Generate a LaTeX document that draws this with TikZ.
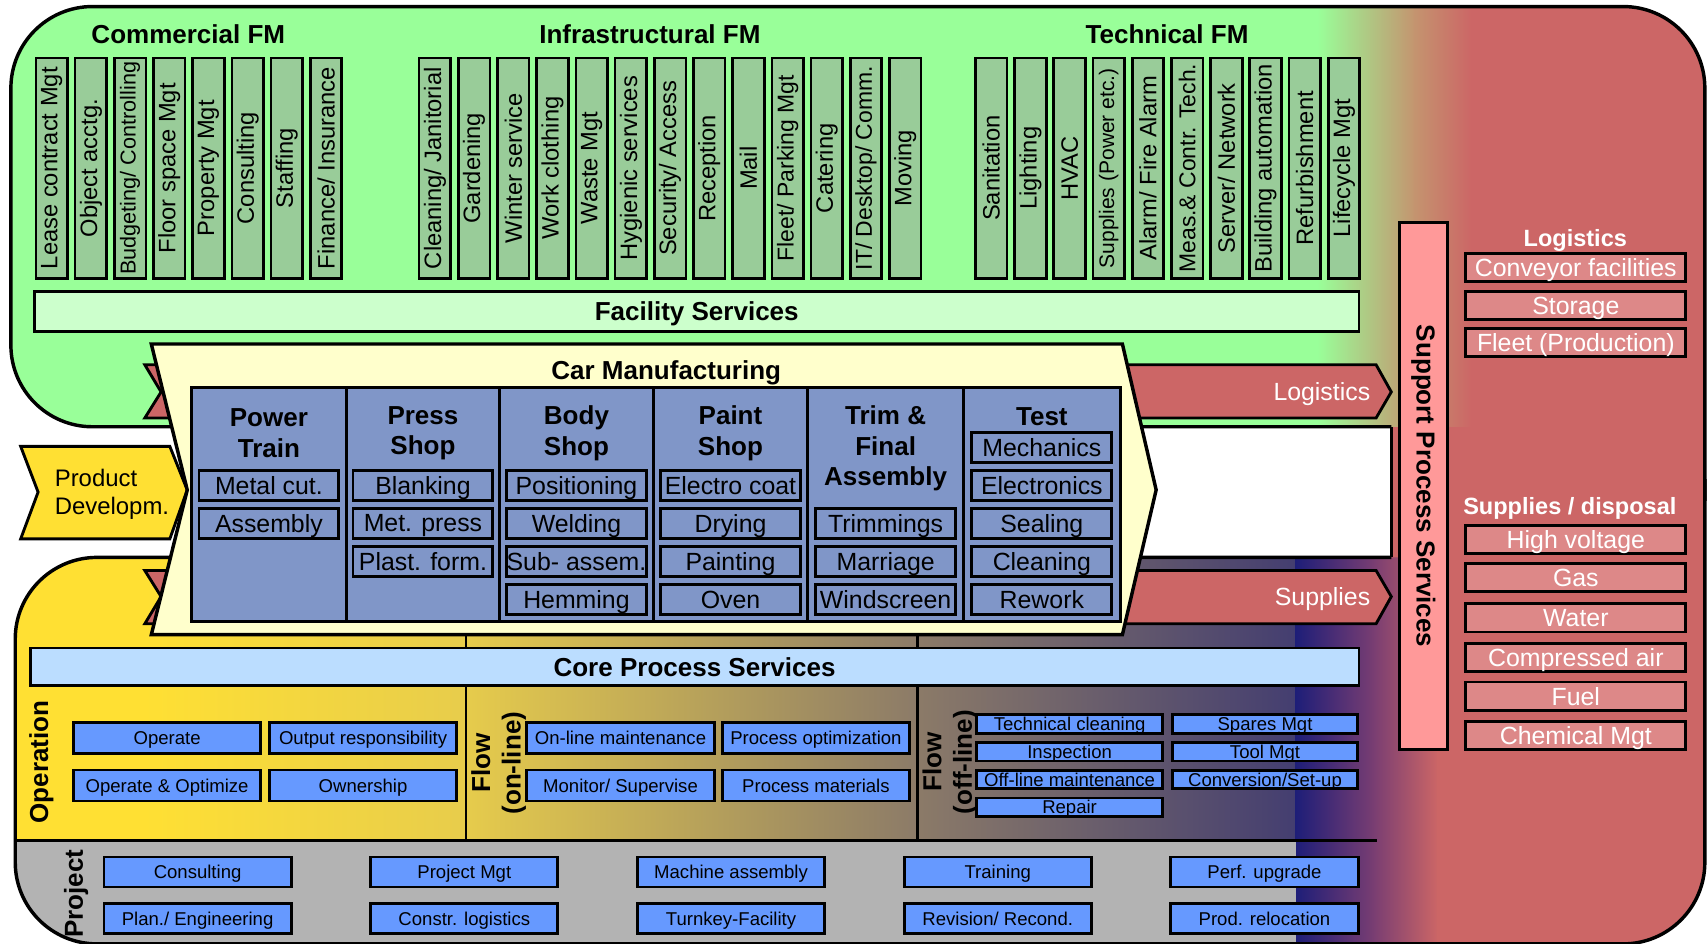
\documentclass[tikz,border=0pt]{standalone}
\usepackage{fontspec}
\setmainfont{Liberation Sans}
\usetikzlibrary{positioning, shapes, calc}

\definecolor{fmgreen}{HTML}{99FF99}
\definecolor{fmtan}{HTML}{C4946F}
\definecolor{colgreen}{HTML}{99CC99}
\definecolor{fsgreen}{HTML}{CCFFCC}
\definecolor{carcream}{HTML}{FFFFCC}
\definecolor{shopblue}{HTML}{8096C8}
\definecolor{supred}{HTML}{CC6666}
\definecolor{supboxred}{HTML}{DD8888}
\definecolor{supbar}{HTML}{FF9999}
\definecolor{corebar}{HTML}{BBDDFF}
\definecolor{taskblue}{HTML}{6699FF}
\definecolor{projgray}{HTML}{B3B3B3}
\definecolor{opyellow}{HTML}{FFE033}
\definecolor{opgold}{HTML}{E8CD4B}
\definecolor{flowtaupe}{HTML}{8C7B68}
\definecolor{flowslate}{HTML}{443E70}
\definecolor{flownavy}{HTML}{1E1E78}
\definecolor{flowplum}{HTML}{7A3E72}

\newcommand{\headfont}{\fontsize{13.6}{16}\selectfont\bfseries}
\newcommand{\colfont}{\fontsize{12.4}{14}\selectfont}
\newcommand{\boxfont}{\fontsize{13}{15}\selectfont}
\newcommand{\taskfont}{\fontsize{9.7}{11}\selectfont}
\newcommand{\listhdfont}{\fontsize{12.3}{14}\selectfont\bfseries}

\begin{document}
\begin{tikzpicture}[x=0.02cm, y=-0.02cm,
  frame/.style={draw=black, line width=1.8pt},
  divline/.style={draw=black, line width=1.5pt},
  fmcol/.style={draw, line width=1.4pt, fill=colgreen, rotate=90, minimum width=4.05cm,
    minimum height=0.58cm, inner sep=0pt, font=\colfont},
  fsbar/.style={draw, line width=1.5pt, inner sep=0pt, text depth=0pt, font=\headfont},
  shoptitle/.style={align=center, inner sep=0pt, font=\headfont},
  shopbox/.style={draw, line width=1.5pt, fill=shopblue, minimum width=2.57cm,
    minimum height=0.54cm, inner sep=0pt, text depth=0pt, font=\boxfont},
  taskbox/.style={draw, line width=1.5pt, fill=taskblue, minimum width=3.44cm,
    minimum height=0.57cm, inner sep=0pt, text depth=0pt, font=\taskfont},
  offbox/.style={taskbox, minimum width=3.41cm, minimum height=0.34cm},
  projbox/.style={taskbox, minimum height=0.55cm},
  listbox/.style={draw, line width=1.5pt, fill=supboxred, minimum width=4.04cm,
    minimum height=0.52cm, inner sep=0pt, text depth=0pt, text=white, font=\boxfont},
  listhead/.style={inner sep=0pt, text=white, font=\listhdfont},
  flowarrow/.style={draw, line width=1.5pt, fill=supred},
  sidelabel/.style={rotate=90, align=center, inner sep=0pt, font=\headfont},
]
\useasboundingbox (0,0) rectangle (1568,867);

% backgrounds
\fill[supred, rounded corners=1.5cm] (1150,6) rectangle (1566,867);
\begin{scope}
  \clip[rounded corners=1.5cm] (10,6) rectangle (1566,392);
  \fill[fmgreen] (0,0) rectangle (1210,400);
  \shade[left color=fmgreen, right color=fmtan] (1210,0) rectangle (1300,400);
  \shade[left color=fmtan, right color=supred] (1299,0) rectangle (1352,400);
  \fill[supred] (1351,0) rectangle (1570,400);
\end{scope}
\begin{scope}
  \clip[rounded corners=1.5cm] (14,512) rectangle (1566,867);
  \fill[opyellow] (0,500) rectangle (131,870);
  \shade[left color=opyellow, right color=opgold] (130,500) rectangle (421,870);
  \shade[left color=opgold, right color=flowtaupe] (420,500) rectangle (841,870);
  \shade[left color=flowtaupe, right color=flowslate] (840,500) rectangle (1190,870);
  \shade[left color=flownavy, right color=flowplum] (1190,500) rectangle (1263,870);
  \shade[left color=flowplum, right color=supred] (1262,500) rectangle (1321,870);
  \fill[supred] (1320,500) rectangle (1570,870);
  \fill[projgray] (0,772) rectangle (1190,870);
\end{scope}
\fill[white] (0,392) rectangle (1278,512);

% outline
\draw[frame, rounded corners=1.5cm] (1278,392) -- (10,392) -- (10,6) -- (1566,6) -- (1566,460);
\draw[frame, rounded corners=1.5cm] (1278,512) -- (14,512) -- (14,867) -- (1566,867) -- (1566,440);
\draw[frame] (1278,392) -- (1278,512);

% facility management
\node[font=\headfont] (comfm) at (173,31) {Commercial FM};
\node[font=\headfont] (inffm) at (597,31) {Infrastructural FM};
\node[font=\headfont] (tecfm) at (1072,31) {Technical FM};
\foreach \lab [count=\i from 0] in {Lease contract Mgt, Object acctg.,
    {\fontsize{11.3}{12}\selectfont Budgeting/ Controlling}, Floor space Mgt,
    Property Mgt, Consulting, Staffing, Finance/ Insurance}
  \node[fmcol] (com\i) at ({47.5+36*\i},154.5) {\lab};
\foreach \lab [count=\i from 0] in {Cleaning/ Janitorial, Gardening, Winter service,
    Work clothing, Waste Mgt, Hygienic services, Security/ Access, Reception, Mail,
    {\fontsize{12}{13}\selectfont Fleet/ Parking Mgt}, Catering,
    {\fontsize{12}{13}\selectfont IT/ Desktop/ Comm.}, Moving}
  \node[fmcol] (inf\i) at ({399.5+36*\i},154.5) {\lab};
\foreach \lab [count=\i from 0] in {Sanitation, Lighting, HVAC,
    {\fontsize{11}{12}\selectfont Supplies (Power etc.)}, Alarm/ Fire Alarm,
    {\fontsize{12}{13}\selectfont Meas.\& Contr. Tech.}, Server/ Network,
    Building automation, Refurbishment, Lifecycle Mgt}
  \node[fmcol] (tec\i) at ({910.5+36*\i},154.5) {\lab};
\node[fsbar, fill=fsgreen, minimum width=24.34cm, minimum height=0.74cm] (facsrv) at (640,286) {Facility Services};

% logistics and supplies flows
\draw[flowarrow] (133,335) -- (1264,335) -- (1278,360) -- (1264,384) -- (133,384) -- (148,360) -- cycle;
\draw[flowarrow] (133,524) -- (1264,524) -- (1278,548) -- (1264,573) -- (133,573) -- (148,548) -- cycle;
\node[anchor=east, inner sep=0pt, text=white, font=\boxfont] (logflow) at (1259,362) {Logistics};
\node[anchor=east, inner sep=0pt, text=white, font=\boxfont] (supflow) at (1259,550) {Supplies};

% product development
\draw[line width=1.5pt, fill=opyellow] (19,410) -- (156,410) -- (172,450) -- (156,495) -- (19,495) -- (35,452) -- cycle;
\node[anchor=west, align=left, inner sep=0pt, font=\fontsize{12.5}{14.8}\selectfont] (proddev) at (50,454) {Product\\Developm.};

% car manufacturing
\draw[line width=1.8pt, fill=carcream] (139,316) -- (1031,316) -- (1062,450) -- (1031,583) -- (139,583) -- (172,450) -- cycle;
\node[font=\headfont] (carman) at (612,342) {Car Manufacturing};
\draw[divline, fill=shopblue] (176,356) rectangle (1029,571);
\foreach \x in {318,459,600,742,885}
  \draw[divline] (\x,356) -- (\x,571);
\node[shoptitle] (pwrt) at (247,398) {Power\\Train};
\node[shoptitle] (prst) at (388.5,398) {Press\\Shop};
\node[shoptitle] (bdyt) at (529.5,398) {Body\\Shop};
\node[shoptitle] (pntt) at (671,398) {Paint\\Shop};
\node[shoptitle] (trmt) at (813.5,412) {Trim \&\\Final\\Assembly};
\node[shoptitle] (tstt) at (957,383) {Test};
\foreach \lab [count=\r from 1] in {Metal cut., Assembly}
  \node[shopbox] (pwr\r) at (247,{411+34.9*\r}) {\lab};
\foreach \lab [count=\r from 1] in {Blanking, Met. press, Plast. form.}
  \node[shopbox] (prs\r) at (388.5,{411+34.9*\r}) {\lab};
\foreach \lab [count=\r from 1] in {Positioning, Welding, Sub- assem., Hemming}
  \node[shopbox] (bdy\r) at (529.5,{411+34.9*\r}) {\lab};
\foreach \lab [count=\r from 1] in {Electro coat, Drying, Painting, Oven}
  \node[shopbox] (pnt\r) at (671,{411+34.9*\r}) {\lab};
\foreach \lab [count=\r from 2] in {Trimmings, Marriage, Windscreen}
  \node[shopbox] (trm\r) at (813.5,{411+34.9*\r}) {\lab};
\foreach \lab [count=\r from 0] in {Mechanics, Electronics, Sealing, Cleaning, Rework}
  \node[shopbox] (tst\r) at (957,{411+34.9*\r}) {\lab};

% core process services
\draw[divline] (428,583) -- (428,772);
\draw[divline] (843,583) -- (843,772);
\draw[divline] (14,772) -- (1265,772);
\node[fsbar, fill=corebar, minimum width=24.42cm, minimum height=0.69cm] (coresrv) at (638,612.5) {Core Process Services};

\node[sidelabel] (operation) at (38,700) {Operation};
\node[taskbox] (opr) at (153.5,677.5) {Operate};
\node[taskbox] (outresp) at (333.5,677.5) {Output responsibility};
\node[taskbox] (opropt) at (153.5,721.5) {Operate \& Optimize};
\node[taskbox] (owner) at (333.5,721.5) {Ownership};

\node[sidelabel] (flowon) at (458,701) {Flow\\(on-line)};
\node[taskbox] (onmaint) at (570,677.5) {On-line maintenance};
\node[taskbox] (procopt) at (749.5,677.5) {Process optimization};
\node[taskbox] (monitor) at (570,721.5) {Monitor/ Supervise};
\node[taskbox] (procmat) at (749.5,721.5) {Process materials};

\node[sidelabel] (flowoff) at (872.5,700) {Flow\\(off-line)};
\foreach \lab [count=\r from 0] in {Technical cleaning, Inspection, Off-line maintenance, Repair}
  \node[offbox] (offl\r) at (982.5,{665+25.5*\r}) {\lab};
\foreach \lab [count=\r from 0] in {Spares Mgt, Tool Mgt, Conversion/Set-up}
  \node[offbox] (offr\r) at (1162,{665+25.5*\r}) {\lab};

\node[sidelabel] (project) at (70,821) {Project};
\foreach \lab [count=\i from 0] in {Consulting, Project Mgt, Machine assembly, Training, Perf. upgrade}
  \node[projbox] (prja\i) at ({181.5+245*\i},801) {\lab};
\foreach \lab [count=\i from 0] in {Plan./ Engineering, Constr. logistics, Turnkey-Facility, Revision/ Recond., Prod. relocation}
  \node[projbox] (prjb\i) at ({181.5+245*\i},843.5) {\lab};

% support process services
\node[draw, line width=1.5pt, fill=supbar, rotate=-90, minimum width=9.68cm, minimum height=0.88cm,
  inner sep=0pt, font=\headfont] (supsrv) at (1307.5,446.5) {Support Process Services};
\node[listhead] (loghead) at (1447,221) {Logistics};
\foreach \lab/\y [count=\i] in {Conveyor facilities/245.5, Storage/280.5, Fleet (Production)/314.5}
  \node[listbox] (log\i) at (1447.5,\y) {\lab};
\node[listhead] (suphead) at (1442,467) {Supplies / disposal};
\foreach \lab/\y [count=\i] in {High voltage/495.5, Gas/530.5, Water/567.5, Compressed air/604,
    Fuel/639.5, Chemical Mgt/675.5}
  \node[listbox] (sup\i) at (1447.5,\y) {\lab};
\end{tikzpicture}
\end{document}
